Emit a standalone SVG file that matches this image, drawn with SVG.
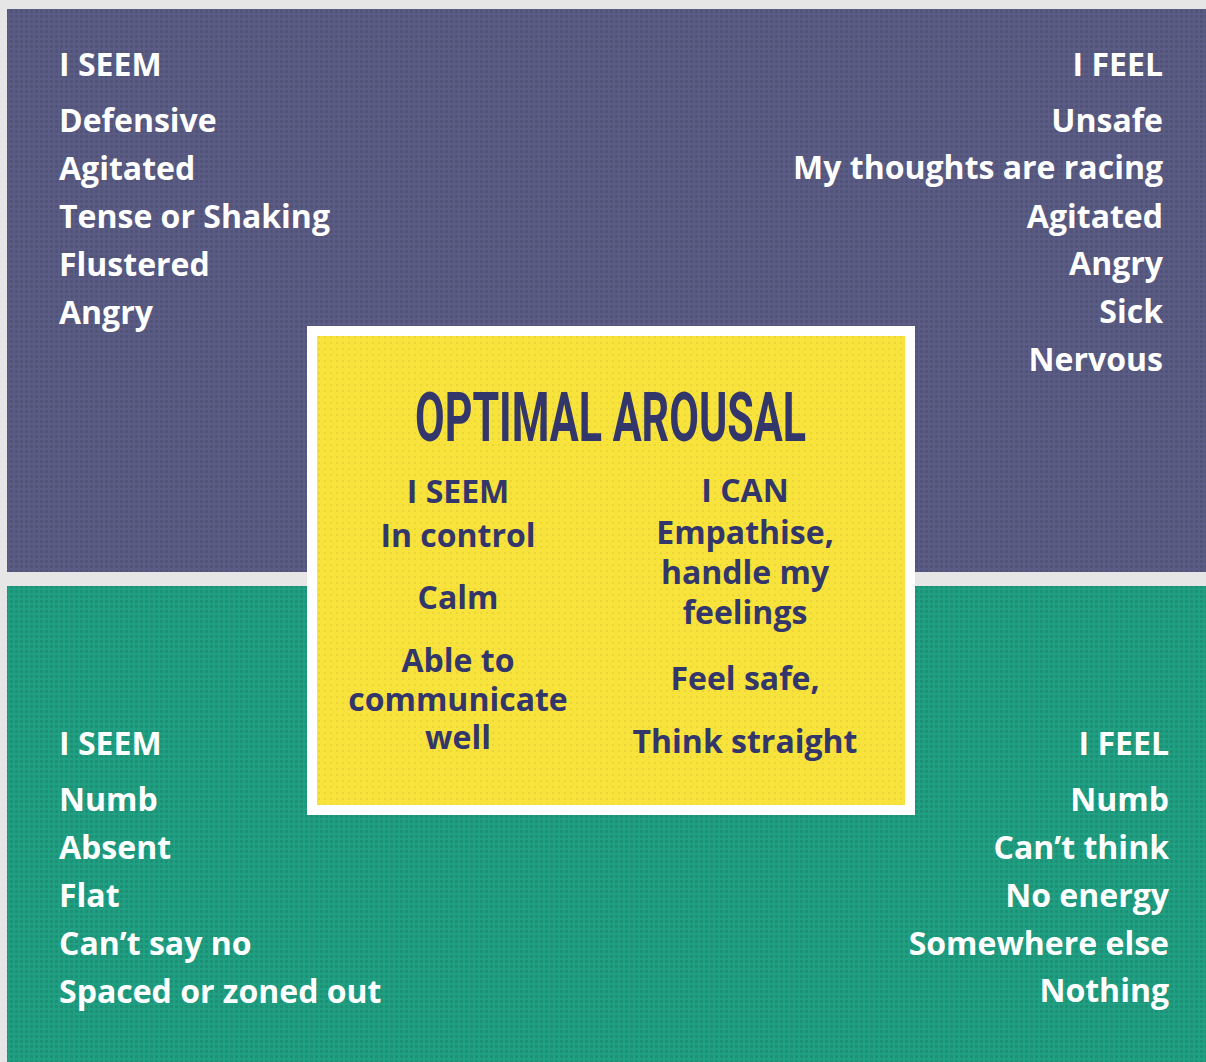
<svg xmlns="http://www.w3.org/2000/svg" width="1206" height="1062" viewBox="0 0 1206 1062">
<defs>
<pattern id="weave" width="5" height="5" patternUnits="userSpaceOnUse">
<rect x="0" y="0" width="3" height="3" fill="#000" opacity="0.10"/>
</pattern>
<pattern id="weaveY" width="6" height="6" patternUnits="userSpaceOnUse">
<rect x="0" y="0" width="2" height="2" fill="#8a7a20" opacity="0.12"/>
</pattern>
</defs>
<style>
.w{font-family:"Open Sans","Noto Sans",sans-serif;font-weight:700;font-size:32px;fill:#ffffff}
.r{text-anchor:end}
.c{font-family:"Open Sans","Noto Sans",sans-serif;font-weight:700;font-size:32px;fill:#33366a;text-anchor:middle}
.t{font-family:"Roboto","DejaVu Sans",sans-serif;font-weight:700;font-size:68px;fill:#33366a}
</style>
<rect x="0" y="0" width="1206" height="1062" fill="#e6e6e6"/>
<g id="hyper-panel">
<rect x="7" y="9" width="1199" height="563" fill="#5a5c85"/>
<rect x="7" y="9" width="1199" height="563" fill="url(#weave)"/>
</g>
<g id="hypo-panel">
<rect x="7" y="586" width="1199" height="476" fill="#20a082"/>
<rect x="7" y="586" width="1199" height="476" fill="url(#weave)"/>
</g>
<g id="hyper-seem">
<text class="w" x="59" y="76">I SEEM</text>
<text class="w" x="59" y="132">Defensive</text>
<text class="w" x="59" y="180">Agitated</text>
<text class="w" x="59" y="228">Tense or Shaking</text>
<text class="w" x="59" y="276">Flustered</text>
<text class="w" x="59" y="324">Angry</text>
</g>
<g id="hyper-feel">
<text class="w r" x="1163" y="76">I FEEL</text>
<text class="w r" x="1163" y="132">Unsafe</text>
<text class="w r" x="1163" y="179">My thoughts are racing</text>
<text class="w r" x="1163" y="228">Agitated</text>
<text class="w r" x="1163" y="275">Angry</text>
<text class="w r" x="1163" y="323">Sick</text>
<text class="w r" x="1163" y="371">Nervous</text>
</g>
<g id="hypo-seem">
<text class="w" x="59" y="755">I SEEM</text>
<text class="w" x="59" y="811">Numb</text>
<text class="w" x="59" y="859">Absent</text>
<text class="w" x="59" y="907">Flat</text>
<text class="w" x="59" y="955">Can’t say no</text>
<text class="w" x="59" y="1003">Spaced or zoned out</text>
</g>
<g id="hypo-feel">
<text class="w r" x="1169" y="755">I FEEL</text>
<text class="w r" x="1169" y="811">Numb</text>
<text class="w r" x="1169" y="859">Can’t think</text>
<text class="w r" x="1169" y="907">No energy</text>
<text class="w r" x="1169" y="955">Somewhere else</text>
<text class="w r" x="1169" y="1002">Nothing</text>
</g>
<g id="optimal">
<rect x="307" y="326" width="608" height="489" fill="#ffffff"/>
<rect x="317" y="336" width="588" height="469" fill="#f8e23c"/>
<rect x="317" y="336" width="588" height="469" fill="url(#weaveY)"/>
<text class="t" x="415" y="441" textLength="391" lengthAdjust="spacingAndGlyphs">OPTIMAL AROUSAL</text>
<text class="c" x="458" y="503">I SEEM</text>
<text class="c" x="458" y="547">In control</text>
<text class="c" x="458" y="609">Calm</text>
<text class="c" x="458" y="672">Able to</text>
<text class="c" x="458" y="711">communicate</text>
<text class="c" x="458" y="749">well</text>
<text class="c" x="745" y="502">I CAN</text>
<text class="c" x="745" y="544">Empathise,</text>
<text class="c" x="745" y="584">handle my</text>
<text class="c" x="745" y="624">feelings</text>
<text class="c" x="745" y="690">Feel safe,</text>
<text class="c" x="745" y="753">Think straight</text>
</g>
<g id="connectors"></g>
</svg>
